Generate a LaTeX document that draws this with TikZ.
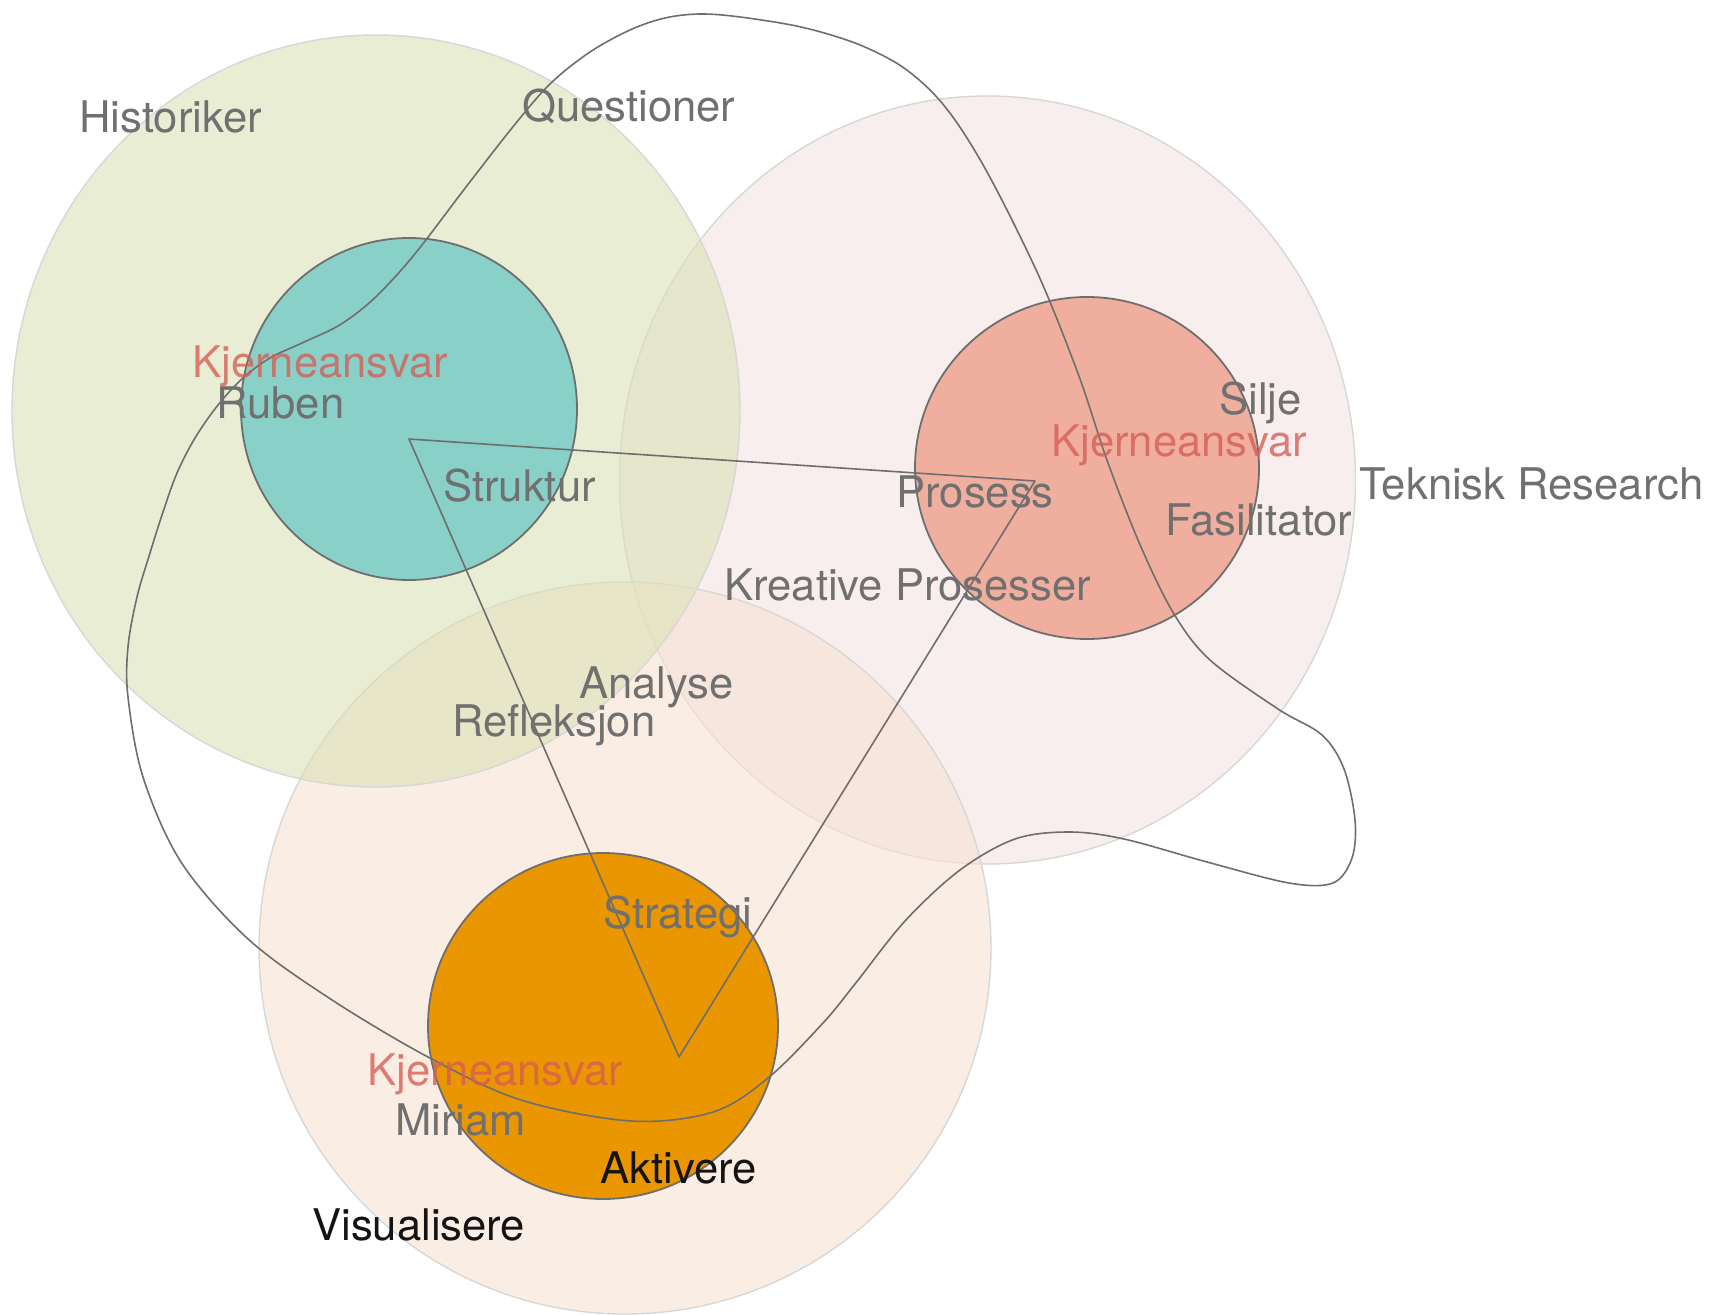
\documentclass[tikz,border=0pt]{standalone}
\usepackage{fontspec}
\setmainfont{TeX Gyre Heros}
\usetikzlibrary{shapes.geometric}
\definecolor{greenbase}{RGB}{218,225,183}
\definecolor{pinkbase}{RGB}{245,227,227}
\definecolor{peachbase}{RGB}{247,225,210}
\definecolor{tealc}{RGB}{137,209,200}
\definecolor{salmonc}{RGB}{240,175,158}
\definecolor{orangec}{RGB}{233,150,0}
\definecolor{linegray}{RGB}{110,110,110}
\definecolor{textgray}{RGB}{112,112,112}
\definecolor{kred}{RGB}{214,92,84}
\definecolor{faint}{RGB}{215,215,215}
\tikzset{
  bigc/.style={ellipse, draw=faint, line width=0.7pt, fill opacity=0.6, inner sep=0pt},
  innerc/.style={ellipse, draw=linegray, line width=0.9pt, inner sep=0pt},
  curveline/.style={draw=linegray, line width=0.8pt, line join=round},
  lbl/.style={anchor=base west, inner sep=0pt, text=textgray, font=\fontsize{21.8}{25}\selectfont},
  keylbl/.style={lbl, text=kred, text opacity=0.78},
  blacklbl/.style={lbl, text=black!92}
}
\begin{document}
\begin{tikzpicture}[x=0.5pt,y=-0.5pt]
\useasboundingbox (0,0) rectangle (1712,1315);
% big circles
\node[bigc, fill=pinkbase, minimum width=368pt, minimum height=384pt] (pink) at (987.5,480) {};
\node[bigc, fill=peachbase, minimum width=366pt, minimum height=366pt] (peach) at (625,948) {};
\node[bigc, fill=greenbase, minimum width=364pt, minimum height=376pt] (green) at (376,411) {};
% inner circles
\node[innerc, fill=tealc, minimum width=168pt, minimum height=171pt] (teal) at (409,409) {};
\node[innerc, fill=salmonc, minimum width=172pt, minimum height=171pt] (salmon) at (1087,468) {};
\node[innerc, fill=orangec, minimum width=175pt, minimum height=173pt] (orange) at (603,1026) {};
% triangle
\coordinate (t1) at (409,439);
\coordinate (t2) at (1035,481);
\coordinate (t3) at (679,1057);
\draw[curveline] (t1) -- (t2) -- (t3) -- cycle;
% freehand loop
\draw[curveline] plot[smooth cycle, tension=0.55] coordinates {
(700,14) (740,17) (801,27) (855,43) (898,64) (930,90) (955,120) (982,163)
(1012,220) (1045,290) (1080,379) (1108,463) (1141,547) (1174,614) (1210,660)
(1278,709) (1322,735) (1344,769) (1355,820) (1352,858) (1333,883) (1289,883)
(1207,862) (1124,839) (1069,832) (1015,839) (960,870) (905,921) (855,984)
(823,1023) (768,1078) (713,1112) (631,1121) (521,1100) (428,1057) (329,998)
(247,938) (181,862) (143,777) (128,697) (128,647) (137,597) (150,553)
(163,512) (177,473) (195,438) (218,405) (243,378) (270,358) (302,343)
(338,326) (368,304) (395,277) (422,245) (466,187) (516,123) (551,83)
(590,52) (630,30) (665,18)
};
% labels
\node[lbl] (historiker) at (79,133) {Historiker};
\node[lbl] (questioner) at (522,122) {Questioner};
\node[keylbl] (kj1) at (192,378) {Kjerneansvar};
\node[lbl] (ruben) at (216,419) {Ruben};
\node[lbl] (struktur) at (443,502) {Struktur};
\node[lbl] (silje) at (1219,415) {Silje};
\node[keylbl] (kj2) at (1051,457) {Kjerneansvar};
\node[lbl] (teknisk) at (1359,500) {Teknisk Research};
\node[lbl] (prosess) at (896,508) {Prosess};
\node[lbl] (fasilitator) at (1165,535) {Fasilitator};
\node[lbl] (kreative) at (724,600) {Kreative Prosesser};
\node[lbl] (analyse) at (579,698) {Analyse};
\node[lbl] (refleksjon) at (452,736) {Refleksjon};
\node[lbl] (strategi) at (603,928) {Strategi};
\node[keylbl] (kj3) at (367,1085) {Kjerneansvar};
\node[lbl] (miriam) at (395,1135) {Miriam};
\node[blacklbl] (aktivere) at (600,1183) {Aktivere};
\node[blacklbl] (visualisere) at (312,1240) {Visualisere};
\end{tikzpicture}
\end{document}
